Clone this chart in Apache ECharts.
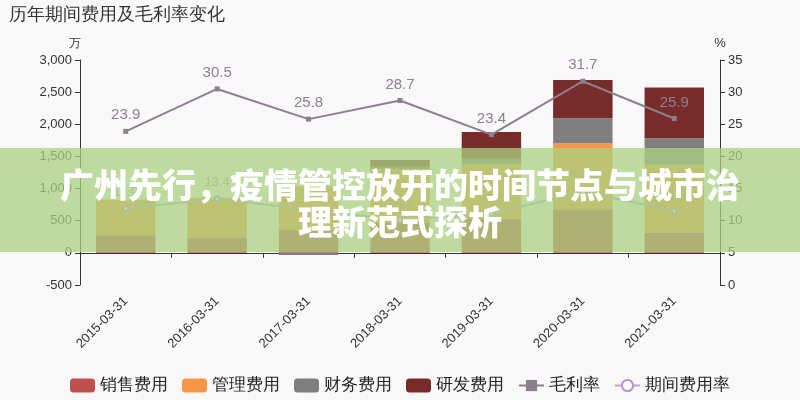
<!DOCTYPE html>
<html>
<head>
<meta charset="utf-8">
<script src="https://cdn.jsdelivr.net/npm/echarts@6/dist/echarts.min.js"></script>
<style>
  html, body { margin: 0; padding: 0; background: #f8f8f8; }
  #main { width: 800px; height: 400px; }
</style>
</head>
<body>
<div id="main"></div>
<script>
// 数据
const dates = ['2015-03-31', '2016-03-31', '2017-03-31', '2018-03-31', '2019-03-31', '2020-03-31', '2021-03-31'];
const salesCost = [275, 238, 357, 466, 533, 679, 315];      // 销售费用
const adminCost = [548, 621, 683, 838, 845, 1025, 1056];    // 管理费用
const financeCost = [5, 0, -35, 36, 87, 388, 413];          // 财务费用
const rdCost = [0, 0, 0, 104, 415, 595, 787];               // 研发费用
const grossMargin = [23.9, 30.5, 25.8, 28.7, 23.4, 31.7, 25.9];   // 毛利率
const expenseRate = [11.9, 13.4, 11.7, 10.1, 11.1, 14.5, 11.5];   // 期间费用率
const leftTicks = { min: -500, max: 3000, interval: 500 };
const rightTicks = { min: 0, max: 35, interval: 5 };

const bannerLines = ['广州先行，疫情管控放开的时间节点与城市治', '理新范式探析'];

let chartDom = document.getElementById('main');
let myChart = echarts.init(chartDom);

function barSeries(name, data, color) {
    return {
        name: name,
        type: 'bar',
        stack: 'cost',
        barWidth: '65%',
        itemStyle: { color: color },
        data: data
    };
}

let option = {
    backgroundColor: '#f8f8f8',
    animation: false,
    title: {
        text: '历年期间费用及毛利率变化',
        left: 4,
        top: 1,
        textStyle: { fontSize: 18, fontWeight: 'normal', color: '#333' }
    },
    legend: {
        bottom: 1,
        itemWidth: 25,
        itemHeight: 14,
        itemGap: 14,
        textStyle: { fontSize: 17, color: '#222' },
        data: ['销售费用', '管理费用', '财务费用', '研发费用', '毛利率', '期间费用率']
    },
    grid: { left: 80, right: 80, top: 60, bottom: 115 },
    xAxis: {
        type: 'category',
        data: dates,
        axisLine: { onZero: true, lineStyle: { color: '#333' } },
        axisTick: { show: true },
        axisLabel: { rotate: 45, margin: 14, fontSize: 13, color: '#333' }
    },
    yAxis: [
        {
            type: 'value',
            name: '万',
            nameGap: 10,
            min: leftTicks.min,
            max: leftTicks.max,
            interval: leftTicks.interval,
            nameTextStyle: { color: '#333', fontSize: 12, padding: [0, 10, 0, 0] },
            axisLine: { show: true, lineStyle: { color: '#333' } },
            axisTick: { show: true },
            splitLine: { show: false },
            axisLabel: {
                color: '#333',
                fontSize: 13,
                formatter: function (v) { return v.toLocaleString('en-US'); }
            }
        },
        {
            type: 'value',
            name: '%',
            nameGap: 10,
            min: rightTicks.min,
            max: rightTicks.max,
            interval: rightTicks.interval,
            nameTextStyle: { color: '#333', fontSize: 13 },
            axisLine: { show: true, lineStyle: { color: '#333' } },
            axisTick: { show: true },
            splitLine: { show: false },
            axisLabel: { color: '#333', fontSize: 13 }
        }
    ],
    series: [
        barSeries('销售费用', salesCost, '#c0504d'),
        barSeries('管理费用', adminCost, '#f79646'),
        barSeries('财务费用', financeCost, '#7f7f7f'),
        barSeries('研发费用', rdCost, '#772c2a'),
        {
            name: '毛利率',
            type: 'line',
            yAxisIndex: 1,
            symbol: 'rect',
            symbolSize: 5,
            itemStyle: { color: '#8c7f8e' },
            lineStyle: { color: '#8c7f8e', width: 2 },
            label: { show: true, position: 'top', distance: 6, fontSize: 15, color: '#8c7f8e' },
            data: grossMargin
        },
        {
            name: '期间费用率',
            type: 'line',
            yAxisIndex: 1,
            symbol: 'emptyCircle',
            symbolSize: 5,
            itemStyle: { color: '#b690d8' },
            lineStyle: { color: '#b8a6c8', width: 2 },
            label: { show: true, position: 'top', distance: 6, fontSize: 13, color: '#9a9a9a' },
            data: expenseRate
        }
    ],
    graphic: [
        {
            type: 'rect',
            z: 100,
            shape: { x: 0, y: 148, width: 800, height: 104 },
            style: { fill: 'rgba(170,210,130,0.75)' }
        },
        {
            type: 'text',
            z: 101,
            x: 400,
            y: 185,
            style: {
                text: bannerLines[0],
                fill: '#fff',
                font: '900 34px "Noto Sans CJK SC"',
                align: 'center',
                verticalAlign: 'middle'
            }
        },
        {
            type: 'text',
            z: 101,
            x: 400,
            y: 222,
            style: {
                text: bannerLines[1],
                fill: '#fff',
                font: '900 34px "Noto Sans CJK SC"',
                align: 'center',
                verticalAlign: 'middle'
            }
        }
    ]
};
myChart.setOption(option);

window.addEventListener('resize', function () {
    myChart.resize();
});
</script>
</body>
</html>
